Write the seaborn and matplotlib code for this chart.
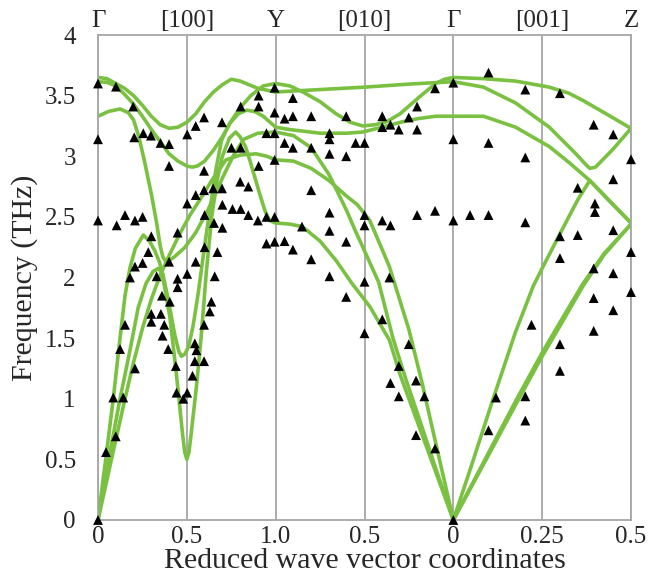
import pandas as pd
import seaborn as sns
import matplotlib
matplotlib.use("Agg")
import matplotlib.pyplot as plt

# path: Gamma-Y on 0..1, Y-Gamma on 1..2, Gamma-Z on 2..3
tick_pos = [0, 0.5, 1, 1.5, 2, 2.5, 3]
bottom_labels = ["0", "0.5", "1.0", "0.5", "0", "0.25", "0.5"]
top_labels = ["Γ", "[100]", "Y", "[010]", "Γ", "[001]", "Z"]

## calculated bands, (coordinate, THz)
# Gamma -> Y
gy_top = [(0, 3.65), (0.05, 3.64), (0.1, 3.60), (0.15, 3.56), (0.2, 3.50), (0.25, 3.42), (0.3, 3.33),
          (0.35, 3.26), (0.4, 3.23), (0.45, 3.24), (0.5, 3.28), (0.55, 3.35), (0.6, 3.45), (0.65, 3.53),
          (0.7, 3.59), (0.75, 3.635), (0.8, 3.62), (0.85, 3.59), (0.9, 3.56), (1.0, 3.53)]
gy_second = [(0, 3.615), (0.05, 3.61), (0.1, 3.58), (0.15, 3.51), (0.2, 3.43), (0.25, 3.33), (0.3, 3.22),
             (0.35, 3.12), (0.4, 3.02), (0.45, 2.96), (0.5, 2.92), (0.53, 2.91), (0.56, 2.92), (0.6, 2.96),
             (0.65, 3.05), (0.7, 3.16), (0.75, 3.29), (0.8, 3.40), (0.86, 3.50), (0.93, 3.58), (1.0, 3.60)]
gy_third = [(0, 3.33), (0.06, 3.37), (0.124, 3.39), (0.17, 3.36), (0.2, 3.30), (0.23, 3.16), (0.26, 2.97),
            (0.3, 2.69), (0.33, 2.45), (0.35, 2.26), (0.365, 2.17), (0.38, 2.135), (0.4, 2.14), (0.43, 2.17),
            (0.49, 2.25), (0.55, 2.37), (0.62, 2.56), (0.7, 2.82), (0.76, 3.0), (0.82, 3.14), (0.9, 3.19),
            (1.0, 3.20)]
gy_ta = [(0, 0), (0.05, 0.33), (0.1, 0.66), (0.152, 1.0), (0.2, 1.3), (0.25, 1.58), (0.3, 1.82), (0.35, 2.02),
         (0.4, 2.18), (0.46, 2.36), (0.52, 2.52), (0.573, 2.64), (0.64, 2.8), (0.72, 2.97), (0.8, 3.01),
         (0.89, 3.02), (0.95, 3.0), (1.0, 2.97)]
gy_mid = [(0, 0), (0.05, 0.42), (0.124, 1.0), (0.18, 1.4), (0.226, 1.75), (0.27, 1.95), (0.31, 2.05),
          (0.34, 2.075), (0.365, 2.03), (0.395, 1.82), (0.433, 1.52), (0.455, 1.39), (0.47, 1.35), (0.49, 1.37),
          (0.51, 1.43), (0.535, 1.6), (0.564, 1.87), (0.6, 2.26), (0.63, 2.56), (0.665, 2.9), (0.695, 3.13),
          (0.74, 3.27), (0.79, 3.35), (0.835, 3.38), (0.88, 3.37), (0.93, 3.33), (1.0, 3.24)]
gy_la = [(0, 0), (0.045, 0.52), (0.086, 1.0), (0.12, 1.45), (0.152, 1.85), (0.18, 2.08), (0.21, 2.24),
         (0.255, 2.35), (0.29, 2.3), (0.32, 2.22), (0.348, 2.12), (0.375, 1.92), (0.404, 1.68), (0.43, 1.35),
         (0.451, 1.07), (0.475, 0.72), (0.488, 0.56), (0.5, 0.5), (0.512, 0.56), (0.525, 0.72), (0.554, 1.1),
         (0.58, 1.5), (0.61, 2.05), (0.64, 2.5), (0.67, 2.8), (0.7, 3.0), (0.74, 3.15), (0.775, 3.2),
         (0.8, 3.16), (0.83, 3.08), (0.854, 2.97), (0.88, 2.84), (0.91, 2.69), (0.94, 2.55), (0.966, 2.47),
         (1.0, 2.45)]
# Y -> Gamma
yg_top = [(1.0, 3.60), (1.08, 3.58), (1.153, 3.53), (1.25, 3.45), (1.34, 3.35), (1.42, 3.28), (1.49, 3.25),
          (1.56, 3.26), (1.625, 3.285), (1.7, 3.35), (1.81, 3.49), (1.9, 3.60), (1.95, 3.635), (2.0, 3.65)]
yg_flat = [(1.0, 3.53), (1.25, 3.55), (1.5, 3.57), (1.75, 3.595), (2.0, 3.615)]
yg_third = [(1.0, 3.24), (1.08, 3.22), (1.25, 3.19), (1.4, 3.19), (1.49, 3.20), (1.6, 3.24), (1.715, 3.285),
            (1.8, 3.31), (1.9, 3.33), (2.0, 3.33)]
yg_a = [(1.0, 3.20), (1.1, 3.17), (1.2, 3.07), (1.3, 2.85), (1.4, 2.55), (1.45, 2.38), (1.5, 2.22),
        (1.58, 1.96), (1.66, 1.5), (1.734, 1.155), (1.8, 0.87), (1.9, 0.43), (2.0, 0)]
yg_b = [(1.0, 2.97), (1.1, 2.96), (1.2, 2.9), (1.3, 2.8), (1.4, 2.67), (1.46, 2.6), (1.53, 2.47),
        (1.64, 2.09), (1.75, 1.57), (1.82, 1.155), (1.9, 0.64), (2.0, 0)]
yg_c = [(1.0, 2.45), (1.08, 2.44), (1.15, 2.42), (1.25, 2.3), (1.34, 2.14), (1.43, 1.95), (1.53, 1.76),
        (1.64, 1.485), (1.7, 1.2), (1.8, 0.8), (1.9, 0.4), (2.0, 0)]
# Gamma -> Z
gz_top = [(2.0, 3.65), (2.17, 3.64), (2.35, 3.62), (2.54, 3.57), (2.65, 3.52), (2.73, 3.46), (2.86, 3.35),
          (3.0, 3.23)]
gz_v = [(2.0, 3.615), (2.17, 3.57), (2.35, 3.44), (2.54, 3.24), (2.69, 3.02), (2.74, 2.94), (2.768, 2.90),
        (2.8, 2.91), (2.9, 3.06), (3.0, 3.23)]
gz_third = [(2.0, 3.33), (2.17, 3.33), (2.35, 3.24), (2.54, 3.08), (2.65, 2.95), (2.768, 2.80), (2.88, 2.63),
            (3.0, 2.45)]
gz_la = [(2.0, 0), (2.1, 0.44), (2.222, 0.99), (2.35, 1.55), (2.45, 1.93), (2.505, 2.09), (2.6, 2.36),
         (2.7, 2.64), (2.768, 2.80), (2.88, 2.63), (3.0, 2.45)]
gz_ta1 = [(2.0, 0), (2.2, 0.56), (2.354, 0.99), (2.5, 1.38), (2.6, 1.63), (2.73, 1.95), (2.85, 2.2), (3.0, 2.44)]
gz_ta2 = [(2.0, 0), (2.2, 0.54), (2.354, 0.96), (2.5, 1.35), (2.6, 1.60), (2.73, 1.93), (2.85, 2.19), (3.0, 2.44)]

band_list = [gy_top, gy_second, gy_third, gy_ta, gy_mid, gy_la,
             yg_top, yg_flat, yg_third, yg_a, yg_b, yg_c,
             gz_top, gz_v, gz_third, gz_la, gz_ta1, gz_ta2]

## measured points (triangles)
meas_x = [0, 0, 0, 0, 0.101, 0.198, 0.204, 0.255, 0.298, 0.352, 0.40, 0.40, 0.502, 0.55, 0.597, 0.698, 0.597,
          0.751, 0.803, 0.803, 0.904, 0.904, 0.904, 0.994, 0.994, 0.948, 0.994, 0.994,
          0.502, 0.55, 0.597, 0.648, 0.698, 0.70, 0.757, 0.803, 0.846, 0.80, 0.846, 0.90, 0.948, 0.994,
          0.60, 0.653, 0.70,
          0.105, 0.152, 0.208, 0.251, 0.30, 0.283, 0.251, 0.208, 0.18, 0.33, 0.40, 0.448, 0.448, 0.448,
          0.502, 0.55, 0.60, 0.672, 0.657, 0.638, 0.629, 0.597, 0.948, 0.994,
          0.36, 0.404, 0.354, 0.30, 0.30, 0.373, 0.363, 0.395, 0.152, 0.124, 0.208,
          0.545, 0.554, 0.545, 0.597, 0.438, 0.532, 0.442, 0.502, 0.48, 0.086, 0.142, 0.10, 0.045,
          1.097, 1.05, 1.097, 1.20, 1.397, 1.60, 1.60, 1.646, 1.693, 1.749, 1.796, 1.796, 1.897,
          1.303, 1.303, 1.05, 1.097, 1.20, 1.303, 1.397, 1.45, 1.50, 1.20, 1.303,
          1.5, 1.5, 1.60, 1.646, 1.796, 1.897, 1.148, 1.303, 1.05, 1.097, 1.20, 1.397,
          1.303, 1.5, 1.64, 1.397, 1.60, 1.5, 1.749, 1.693, 1.646, 1.79, 1.693, 1.837, 1.79, 1.897,
          2.0, 2.0, 2.0, 2.0,
          2.198, 2.405, 2.60, 2.79, 2.90, 3.0, 2.198, 2.405, 2.70, 2.90, 2.797, 2.797,
          2.094, 2.198, 2.405, 2.60, 2.70, 2.90, 3.0, 2.60, 2.79, 2.90, 3.0,
          2.79, 2.90, 2.79, 2.44, 2.60, 2.60, 2.24, 2.405, 2.405, 2.198]
meas_f = [3.60, 3.14, 2.47, 0, 3.574, 3.41, 3.156, 3.19, 3.17, 3.11, 3.10, 2.92, 3.18, 3.25, 3.32, 3.28, 2.88,
          3.07, 3.07, 3.41, 3.50, 3.41, 2.92, 3.565, 3.36, 3.19, 3.19, 2.97,
          2.61, 2.68, 2.72, 2.735, 2.735, 2.60, 2.565, 2.565, 2.515, 2.79, 2.75, 2.47, 2.50, 2.50,
          2.515, 2.45, 2.41,
          2.43, 2.515, 2.47, 2.50, 2.34, 2.21, 2.12, 2.09, 2.00, 2.01, 2.13, 2.37, 1.99, 1.92,
          2.03, 2.13, 2.25, 2.21, 2.01, 1.80, 1.72, 1.61, 2.28, 2.295,
          1.85, 1.80, 1.70, 1.70, 1.635, 1.61, 1.52, 1.41, 1.61, 1.41, 1.25,
          1.457, 1.40, 1.31, 1.31, 1.27, 1.19, 1.05, 1.05, 1.0, 1.01, 1.01, 0.69, 0.56,
          3.48, 3.31, 3.33, 3.33, 3.33, 3.33, 3.24, 3.26, 3.22, 3.32, 3.41, 3.22, 3.56,
          3.19, 3.14, 3.11, 3.07, 3.07, 3.02, 3.0, 3.11, 3.11, 2.72, 2.535,
          2.515, 2.43, 2.47, 2.43, 2.515, 2.55, 2.42, 2.385, 2.30, 2.23, 2.15, 2.295,
          2.01, 1.965, 2.00, 1.84, 1.655, 1.54, 1.45, 1.27, 1.13, 1.15, 1.02, 1.02, 0.70, 0.59,
          3.607, 3.14, 2.47, 0,
          3.69, 3.55, 3.52, 3.26, 3.18, 2.975, 3.11, 2.99, 2.74, 2.81, 2.61, 2.54,
          2.515, 2.515, 2.455, 2.34, 2.35, 2.39, 2.21, 2.16, 2.075, 2.035, 1.88,
          1.83, 1.73, 1.56, 1.61, 1.45, 1.23, 1.01, 1.02, 0.82, 0.74]

green = "#7ac142"
grey = "#a6a6a6"

rows = []
for i, band in enumerate(band_list):
    for x, f in band:
        rows.append({"band": i, "x": x, "f": f})
bands = pd.DataFrame(rows)
meas = pd.DataFrame({"x": meas_x, "f": meas_f})

sns.set_style("white")
plt.rcParams['font.family'] = ['Liberation Serif', 'DejaVu Serif']

fig = plt.figure(figsize=(6.65, 5.77), dpi=100)
ax = fig.add_axes([98 / 665, 1 - 520 / 577, (631 - 98) / 665, (520 - 35) / 577])

sns.lineplot(data=bands, x="x", y="f", units="band", estimator=None, sort=False,
             color=green, lw=2.6, ax=ax, legend=False)
sns.scatterplot(data=meas, x="x", y="f", marker="^", color="black", s=50,
                edgecolor="none", ax=ax, legend=False, zorder=4, clip_on=False)

ax.set_xlim(0, 3)
ax.set_ylim(0, 4)
ax.set_xticks(tick_pos)
ax.set_xticklabels(bottom_labels, fontsize=18)
ax.set_yticks([0, 0.5, 1, 1.5, 2, 2.5, 3, 3.5, 4])
ax.set_yticklabels(["0", "0.5", "1", "1.5", "2", "2.5", "3", "3.5", "4"], fontsize=18)
ax.tick_params(axis="both", length=0)
ax.tick_params(axis="y", pad=16)
ax.tick_params(axis="x", pad=4)
ax.grid(axis="x", color=grey, lw=1.3)
ax.grid(axis="y", visible=False)
for sp in ax.spines.values():
    sp.set_color(grey)
    sp.set_linewidth(1.3)

ax.set_xlabel("Reduced wave vector coordinates", fontsize=21.5, labelpad=0)
ax.set_ylabel("Frequency (THz)", fontsize=21.5, labelpad=5)

ax2 = ax.twiny()
ax2.set_xlim(0, 3)
ax2.set_xticks(tick_pos)
ax2.set_xticklabels(top_labels, fontsize=18)
ax2.tick_params(axis="x", length=0, pad=2)
for sp in ax2.spines.values():
    sp.set_visible(False)

fig.savefig("out.png", dpi=100)
